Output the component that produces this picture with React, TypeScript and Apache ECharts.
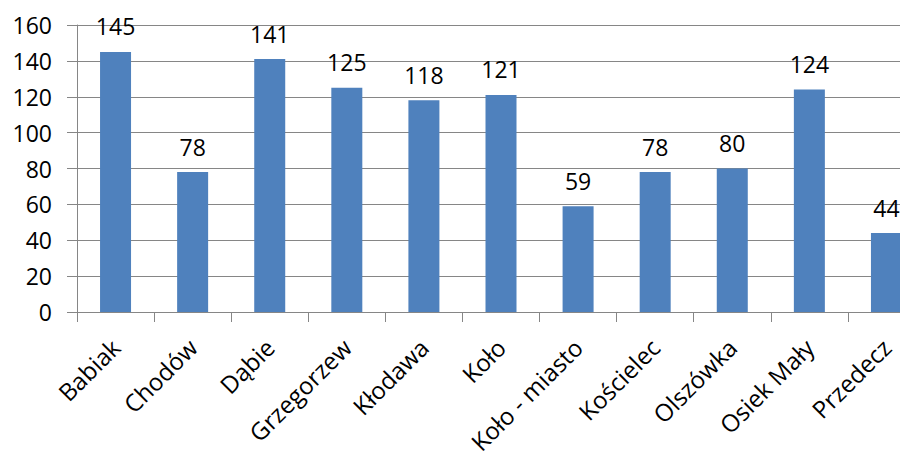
import React, { useEffect, useRef } from "react";
import * as echarts from "echarts";

const categories = [
  "Babiak",
  "Chodów",
  "Dąbie",
  "Grzegorzew",
  "Kłodawa",
  "Koło",
  "Koło - miasto",
  "Kościelec",
  "Olszówka",
  "Osiek Mały",
  "Przedecz",
];
const values = [145, 78, 141, 125, 118, 121, 59, 78, 80, 124, 44];

const FONT = "Open Sans";

export default function App() {
  const ref = useRef<HTMLDivElement>(null);
  useEffect(() => {
    if (!ref.current) return;
    const chart = echarts.init(ref.current, undefined, { renderer: "svg" });
    chart.setOption({
      animation: false,
      backgroundColor: "#ffffff",
      grid: {
        left: 77,
        top: 25,
        right: 0,
        height: 287,
        containLabel: false,
        outerBoundsMode: "none",
      },
      xAxis: {
        type: "category",
        data: categories,
        axisLine: { show: true, lineStyle: { color: "#868686", width: 1 } },
        axisTick: { show: true, alignWithLabel: false, length: 10, lineStyle: { color: "#868686" } },
        axisLabel: {
          interval: 0,
          rotate: 45,
          margin: 31,
          color: "#000000",
          fontFamily: FONT,
          fontSize: 24,
        },
      },
      yAxis: {
        type: "value",
        min: 0,
        max: 160,
        interval: 20,
        axisLine: { show: true, lineStyle: { color: "#868686", width: 1 } },
        axisTick: { show: true, length: 10, lineStyle: { color: "#868686" } },
        splitLine: { show: true, lineStyle: { color: "#868686", width: 1 } },
        axisLabel: {
          margin: 25,
          color: "#000000",
          fontFamily: FONT,
          fontSize: 23,
        },
      },
      series: [
        {
          type: "bar",
          data: values,
          barWidth: 31,
          itemStyle: { color: "#4F81BD" },
          label: {
            show: true,
            position: "top",
            distance: 14,
            color: "#000000",
            fontFamily: FONT,
            fontSize: 23,
          },
        },
      ],
    });
    return () => chart.dispose();
  }, []);
  return (
    <div
      style={{
        position: "fixed",
        left: 0,
        top: 0,
        width: 900,
        height: 452,
        overflow: "hidden",
        background: "#ffffff",
      }}
    >
      <div ref={ref} style={{ width: 925, height: 452 }} />
    </div>
  );
}
